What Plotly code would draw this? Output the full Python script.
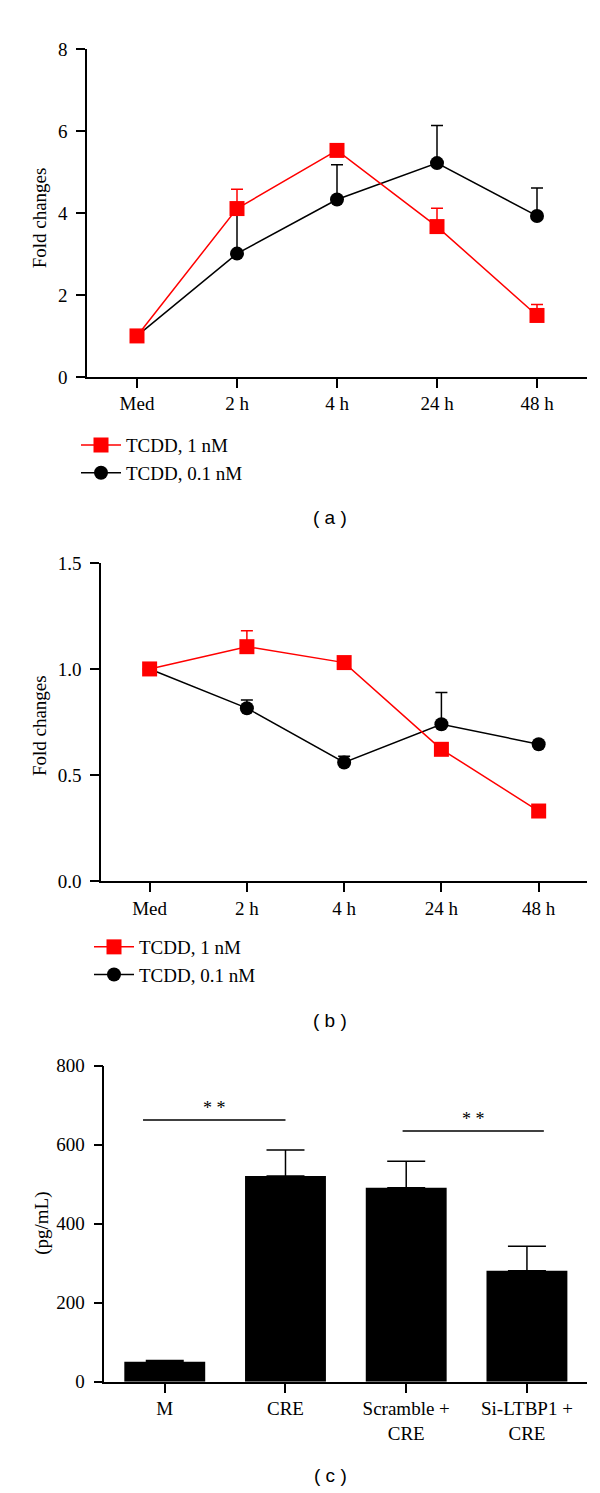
import plotly.graph_objects as go

W, H = 600, 1493

# ---------------- data ----------------
time_points = ["Med", "2 h", "4 h", "24 h", "48 h"]

a_tcdd_1nM = [1.0, 4.11, 5.53, 3.67, 1.50]
a_tcdd_1nM_err = [0.0, 0.47, 0.0, 0.45, 0.27]
a_tcdd_01nM = [1.0, 3.01, 4.33, 5.22, 3.93]
a_tcdd_01nM_err = [0.0, 1.05, 0.85, 0.92, 0.68]

b_tcdd_1nM = [1.0, 1.105, 1.03, 0.621, 0.33]
b_tcdd_1nM_err = [0.0, 0.075, 0.0, 0.0, 0.0]
b_tcdd_01nM = [1.0, 0.815, 0.559, 0.739, 0.645]
b_tcdd_01nM_err = [0.0, 0.038, 0.029, 0.15, 0.0]

c_groups = ["M", "CRE", "Scramble +<br>CRE", "Si-LTBP1 +<br>CRE"]
c_values = [51, 521, 491, 281]
c_err = [3, 66, 67, 62]

# significance brackets (category index units / pg/mL)
sig_x0 = [-0.18, 1.97]
sig_x1 = [1.0, 3.14]
sig_y = [663, 635]
sig_text = ["* *", "* *"]

series_names = ["TCDD, 1 nM", "TCDD, 0.1 nM"]

RED = "#ff0000"
BLACK = "#000000"
SERIF = "Liberation Serif"
SANS = "Liberation Sans"


def px_y(p):
    return 1 - p / H


def px_x(p):
    return p / W


fig = go.Figure()


def add_line(x, y, err, name, color, symbol, size, xa, ya, legend, rank):
    fig.add_trace(go.Scatter(
        x=x, y=y, name=name, mode="lines+markers",
        line=dict(color=color, width=1.5),
        marker=dict(symbol=symbol, size=size, color=color, line=dict(width=0)),
        error_y=dict(type="data", array=err, arrayminus=[0] * len(err),
                     symmetric=False, color=color, thickness=1.5, width=6),
        xaxis=xa, yaxis=ya, legend=legend, legendrank=rank,
        cliponaxis=False,
    ))


# panel a
add_line(time_points, a_tcdd_01nM, a_tcdd_01nM_err, series_names[1], BLACK,
         "circle", 14, "x", "y", "legend", 2)
add_line(time_points, a_tcdd_1nM, a_tcdd_1nM_err, series_names[0], RED,
         "square", 15, "x", "y", "legend", 1)
# panel b
add_line(time_points, b_tcdd_01nM, b_tcdd_01nM_err, series_names[1], BLACK,
         "circle", 14, "x2", "y2", "legend2", 2)
add_line(time_points, b_tcdd_1nM, b_tcdd_1nM_err, series_names[0], RED,
         "square", 15, "x2", "y2", "legend2", 1)

# panel c
fig.add_trace(go.Bar(
    x=c_groups, y=c_values, width=0.67,
    marker=dict(color=BLACK, line=dict(width=0)),
    error_y=dict(type="data", array=c_err, arrayminus=[0] * len(c_err),
                 symmetric=False, color=BLACK, thickness=1.5, width=19),
    xaxis="x3", yaxis="y3", showlegend=False,
))

axis_common = dict(
    showline=True, linecolor=BLACK, linewidth=1.5,
    ticks="outside", ticklen=9, tickwidth=1.5, tickcolor=BLACK,
    showgrid=False, zeroline=False,
    tickfont=dict(family=SERIF, size=19, color=BLACK),
)

fig.update_layout(
    width=W, height=H,
    margin=dict(l=0, r=0, t=0, b=0),
    plot_bgcolor="white", paper_bgcolor="white",
    xaxis=dict(domain=[px_x(79), px_x(579)], range=[-0.5, 4.5], anchor="y",
               type="category", **axis_common),
    yaxis=dict(domain=[px_y(364), px_y(31.7)], range=[0, 8], dtick=2,
               anchor="x", ticklabelstandoff=5, **axis_common),
    xaxis2=dict(domain=[px_x(93), px_x(579.3)], range=[-0.5, 4.5], anchor="y2",
                type="category", **axis_common),
    yaxis2=dict(domain=[px_y(875.3), px_y(552.7)], range=[0, 1.5], dtick=0.5,
                tickformat=".1f", anchor="x2", ticklabelstandoff=5, **axis_common),
    xaxis3=dict(domain=[px_x(96.4), px_x(579.3)], range=[-0.5, 3.5], anchor="y3",
                type="category", **axis_common),
    yaxis3=dict(domain=[px_y(1383.3), px_y(1062.7)], range=[0, 800], dtick=200,
                anchor="x3", ticklabelstandoff=5, **axis_common),
    legend=dict(x=px_x(68), y=px_y(414), xanchor="left", yanchor="top",
                font=dict(family=SERIF, size=19, color=BLACK),
                bgcolor="rgba(0,0,0,0)", tracegroupgap=0, itemwidth=40),
    legend2=dict(x=px_x(81), y=px_y(923), xanchor="left", yanchor="top",
                 font=dict(family=SERIF, size=19, color=BLACK),
                 bgcolor="rgba(0,0,0,0)", tracegroupgap=0, itemwidth=40),
    showlegend=True,
)

annotations = [
    dict(text="Fold changes", x=px_x(31.7), y=px_y(202.5), textangle=-90),
    dict(text="Fold changes", x=px_x(31.7), y=px_y(717.5), textangle=-90),
    dict(text="(pg/mL)", x=px_x(34), y=px_y(1223), textangle=-90),
]
for a in annotations:
    a.update(xref="paper", yref="paper", showarrow=False,
             xanchor="center", yanchor="middle",
             font=dict(family=SERIF, size=19, color=BLACK))

for lbl, ypx in [("( a )", 507), ("( b )", 1017), ("( c )", 1478)]:
    annotations.append(dict(text=lbl, x=px_x(322), y=px_y(ypx), xref="paper", yref="paper",
                            showarrow=False, xanchor="center", yanchor="middle",
                            font=dict(family=SANS, size=19, color=BLACK)))

for x0, x1, y, t in zip(sig_x0, sig_x1, sig_y, sig_text):
    fig.add_shape(type="line", xref="x3", yref="y3", x0=x0, x1=x1, y0=y, y1=y,
                  line=dict(color=BLACK, width=1.5))
    annotations.append(dict(text=t, x=(x0 + x1) / 2, y=y, xref="x3", yref="y3",
                            yshift=12, showarrow=False, xanchor="center", yanchor="middle",
                            font=dict(family=SERIF, size=18, color=BLACK)))

fig.update_layout(annotations=annotations)

fig.write_html("out.html")
